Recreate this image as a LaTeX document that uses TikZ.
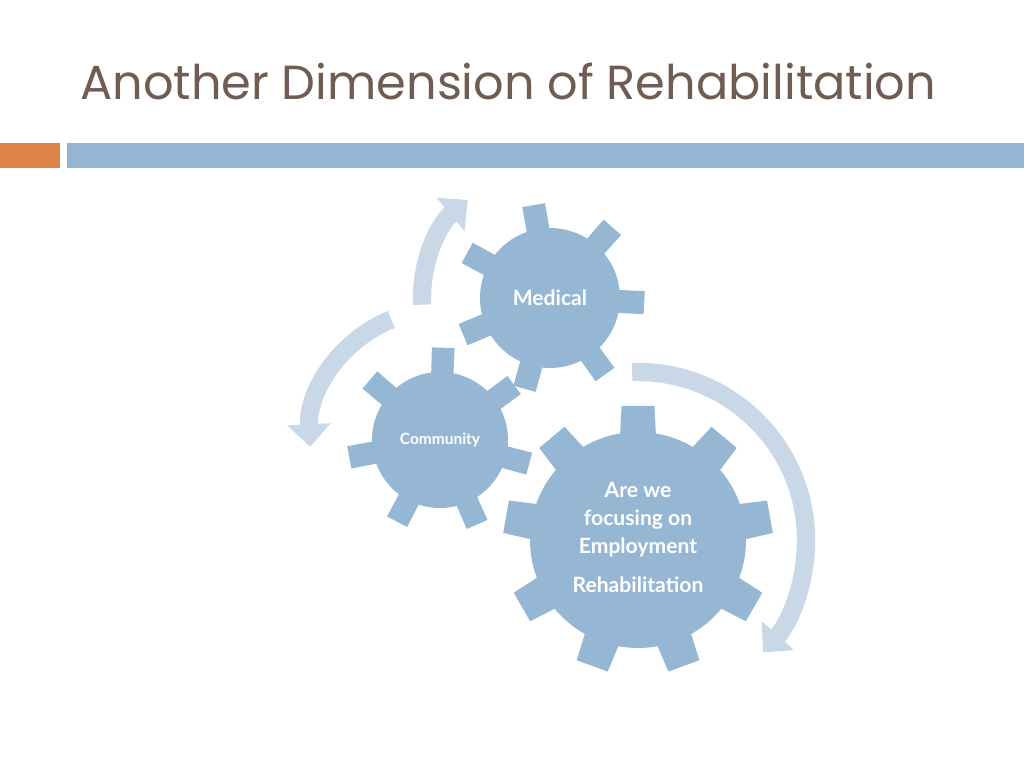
\documentclass[tikz,border=0pt]{standalone}
\usepackage{fontspec}
\setmainfont{Poppins}
\newfontfamily\gearfont{Lato}
\usetikzlibrary{arrows.meta}
\definecolor{titlebrown}{RGB}{112,92,82}
\definecolor{barorange}{RGB}{222,132,72}
\definecolor{barblue}{RGB}{148,182,210}
\definecolor{gearblue}{RGB}{150,183,212}
\definecolor{arcblue}{RGB}{200,216,230}
\newcommand{\drawgear}[6]{% x, y, teeth, inner r, outer r, rotation
  \fill[gearblue] (#1,#2) circle (#4);
  \foreach \i in {1,...,#3}{
    \pgfmathsetmacro{\ang}{#6+360*\i/#3}
    \fill[gearblue] ($(#1,#2)+(\ang-10:#4-4)$) -- ($(#1,#2)+(\ang-7:#5)$)
      -- ($(#1,#2)+(\ang+7:#5)$) -- ($(#1,#2)+(\ang+10:#4-4)$) -- cycle;
  }}
\usetikzlibrary{calc}
\tikzset{
  cyclearc/.style={arcblue, line width=13, -{Triangle[width=30,length=16]}},
  geartext/.style={text=white, font=\gearfont\bfseries, align=center}
}
\begin{document}
\begin{tikzpicture}[x=0.025cm,y=0.025cm]
\useasboundingbox (0,0) rectangle (1024,768);
\node[anchor=base west, text=titlebrown, font=\fontsize{34}{40}\selectfont, inner sep=0] (title) at (80,668) {Another Dimension of Rehabilitation};
\fill[barorange] (0,600) rectangle (60,625);
\fill[barblue] (67,600) rectangle (1024,625);
% gears
\drawgear{638}{228}{9}{108}{135}{90}
\drawgear{550}{470}{7}{70}{95}{100}
\drawgear{440}{328}{7}{68}{93}{88}
\node[geartext, font=\gearfont\bfseries\fontsize{15}{20}\selectfont] (medical) at (550,470) {Medical};
\node[geartext, font=\gearfont\bfseries\fontsize{11}{14}\selectfont] (community) at (440,328) {Community};
\node[geartext, font=\gearfont\bfseries\fontsize{15}{20}\selectfont] (employ) at (638,248) {Are we\\focusing on\\Employment};
\node[geartext, font=\gearfont\bfseries\fontsize{15}{20}\selectfont] (rehab) at (638,183) {Rehabilitation};
% cycle arrows
\draw[cyclearc] (638,228) ++(92:168) arc (92:-42:168);
\draw[cyclearc] (440,328) ++(112:130) arc (112:183:130);
\draw[cyclearc] (550,470) ++(183:128) arc (183:130:128);
\end{tikzpicture}
\end{document}
